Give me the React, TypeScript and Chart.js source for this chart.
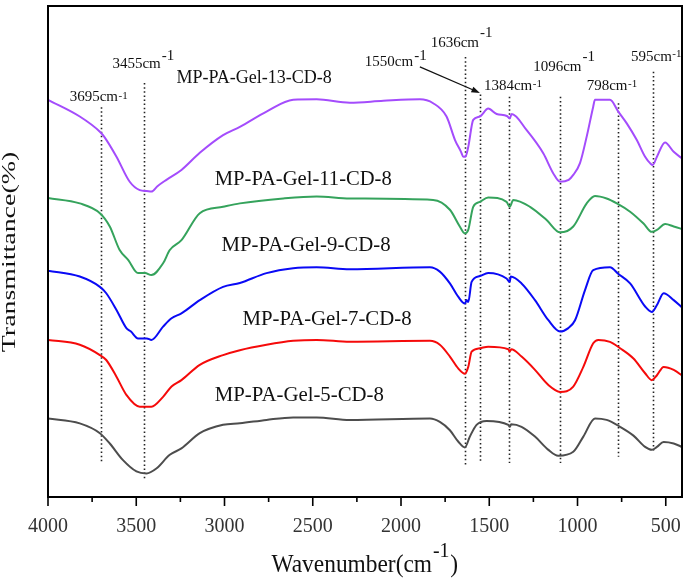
import React, { useEffect, useRef } from "react";
import { Chart, registerables } from "chart.js";

Chart.register(...registerables);

// ---- Data (wavenumber in cm-1, transmittance in arbitrary offset units) ----
const gel13Wn = [4000, 3820, 3706, 3680, 3612, 3537, 3480, 3440, 3414, 3380, 3329, 3244, 3140, 3008, 2913, 2762, 2611, 2478, 2290, 2100, 1893, 1818, 1742, 1694, 1660, 1647, 1635, 1619, 1591, 1553, 1506, 1458, 1400, 1384, 1373, 1288, 1194, 1137, 1099, 1050, 1024, 986, 948, 911, 901, 816, 769, 721, 664, 617, 589, 574, 550, 504, 455, 402];
const gel13T = [80.9, 77.5, 74.4, 73.3, 69.3, 64.2, 62.5, 62.3, 62.2, 63.3, 64.6, 66.6, 70.1, 73.7, 75.4, 78.5, 80.9, 81.0, 80.3, 80.7, 81.0, 80.2, 77.5, 72.7, 70.3, 69.3, 69.3, 71.3, 76.8, 77.5, 79.1, 78.0, 77.6, 77.1, 78.0, 74.7, 70.0, 65.9, 64.2, 64.6, 65.6, 68.0, 73.4, 79.5, 80.9, 80.9, 78.5, 76.1, 72.7, 69.3, 68.0, 67.6, 69.3, 72.2, 70.3, 68.8];

const gel11Wn = [4000, 3820, 3706, 3650, 3594, 3546, 3490, 3450, 3414, 3348, 3310, 3244, 3140, 3008, 2913, 2667, 2478, 2290, 1818, 1723, 1667, 1638, 1619, 1591, 1553, 1506, 1402, 1384, 1364, 1269, 1175, 1099, 1024, 948, 901, 835, 777, 702, 626, 579, 550, 503, 455, 402];
const gel11T = [60.9, 59.8, 57.8, 55.1, 50.3, 48.3, 45.6, 45.6, 45.2, 47.6, 50.3, 52.3, 57.8, 59.1, 59.8, 60.8, 61.2, 60.8, 60.5, 58.5, 55.1, 53.7, 54.4, 59.1, 60.1, 61.0, 60.1, 59.1, 60.5, 59.1, 56.4, 53.9, 55.1, 59.8, 61.3, 60.8, 59.8, 58.1, 55.7, 54.0, 54.4, 55.6, 55.1, 54.5];

const gel9Wn = [4000, 3820, 3706, 3670, 3612, 3556, 3530, 3490, 3440, 3414, 3348, 3300, 3244, 3140, 3008, 2913, 2762, 2611, 2478, 2290, 1836, 1780, 1723, 1676, 1638, 1628, 1619, 1600, 1553, 1506, 1402, 1384, 1378, 1317, 1241, 1165, 1099, 1052, 1014, 957, 911, 816, 768, 702, 617, 579, 550, 512, 455, 402];
const gel9T = [46.1, 44.9, 42.8, 41.5, 38.1, 34.4, 33.7, 32.3, 32.3, 32.0, 34.7, 36.4, 37.4, 40.1, 42.8, 43.6, 45.6, 46.6, 46.8, 46.4, 46.8, 45.9, 43.5, 40.8, 39.4, 40.1, 39.7, 43.8, 45.0, 45.6, 44.5, 43.8, 44.9, 43.5, 40.1, 36.0, 33.7, 34.4, 36.0, 42.2, 46.2, 46.8, 45.4, 43.5, 38.8, 37.7, 39.1, 41.5, 40.1, 38.4];

const gel7Wn = [4000, 3820, 3706, 3670, 3612, 3556, 3480, 3414, 3348, 3300, 3244, 3140, 3008, 2913, 2762, 2611, 2478, 2290, 1836, 1780, 1723, 1676, 1638, 1619, 1600, 1553, 1506, 1392, 1384, 1375, 1317, 1241, 1165, 1099, 1024, 967, 911, 882, 816, 759, 683, 617, 579, 550, 512, 455, 402];
const gel7T = [32.0, 31.0, 28.9, 27.9, 24.5, 20.8, 18.4, 18.4, 20.4, 22.5, 23.8, 26.9, 28.9, 29.9, 31.0, 31.8, 32.0, 31.6, 31.8, 31.0, 28.6, 26.2, 25.1, 26.5, 29.6, 30.3, 30.6, 30.1, 29.6, 30.1, 28.6, 25.9, 22.8, 21.4, 22.5, 26.5, 31.3, 32.0, 31.6, 30.3, 28.2, 25.2, 23.8, 24.8, 26.5, 25.9, 24.6];

const gel5Wn = [4000, 3820, 3706, 3650, 3575, 3499, 3442, 3386, 3310, 3244, 3140, 3008, 2913, 2762, 2611, 2478, 2290, 1836, 1780, 1723, 1676, 1638, 1610, 1572, 1515, 1392, 1384, 1376, 1317, 1241, 1165, 1109, 1024, 967, 901, 835, 759, 683, 617, 579, 550, 512, 455, 402];
const gel5T = [16.0, 15.0, 13.0, 10.9, 7.5, 5.2, 4.8, 5.8, 8.6, 9.9, 13.0, 14.7, 15.0, 15.7, 16.2, 16.2, 15.7, 16.0, 15.3, 13.6, 11.3, 10.1, 12.3, 14.7, 15.5, 14.7, 14.3, 14.8, 14.3, 12.3, 9.6, 8.4, 9.2, 12.3, 16.0, 15.7, 14.3, 12.5, 10.2, 9.6, 10.2, 11.2, 10.9, 10.1];

const seriesNames = ["MP-PA-Gel-13-CD-8", "MP-PA-Gel-11-CD-8", "MP-PA-Gel-9-CD-8", "MP-PA-Gel-7-CD-8", "MP-PA-Gel-5-CD-8"];
const xTickValues = [4000, 3500, 3000, 2500, 2000, 1500, 1000, 500];
const peakLabels = ["3695", "3455", "1636", "1550", "1384", "1096", "798", "595"];
// where each dotted marker line sits, and its vertical span
const peakLineWn = [3697, 3455, 1638, 1553, 1386, 1098, 771, 575];
const peakLineTop = [79.4, 84.3, 89.6, 82.0, 81.5, 81.5, 80.2, 86.6];
const peakLineBottom = [7.0, 3.5, 6.5, 7.2, 6.9, 6.9, 8.2, 9.0];

// ---- Layout / style (not data) ----
const COLORS = ["#a44cfc", "#35a35c", "#0a0af5", "#f50a0a", "#4d4d4d"];
const SERIF = '"Liberation Serif", "Times New Roman", serif';
const seriesLabelPos = [
  { wn: 3272, t: 84.3, size: 18 },
  { wn: 3055, t: 63.5, size: 20.6 },
  { wn: 3017, t: 50.1, size: 20.8 },
  { wn: 2898, t: 35.0, size: 20.8 },
  { wn: 3055, t: 19.55, size: 20.8 },
];
// big = superscript same size and raised high; small = small and low
const peakLabelPos = [
  { wn: 3877, t: 80.65, big: false, rise: 2.5 },
  { wn: 3635, t: 87.4, big: true, rise: 8 },
  { wn: 1832, t: 91.7, big: true, rise: 9.5 },
  { wn: 2205, t: 87.8, big: true, rise: 5.5 },
  { wn: 1530, t: 82.9, big: false, rise: 3 },
  { wn: 1251, t: 86.8, big: true, rise: 10 },
  { wn: 948, t: 82.9, big: false, rise: 3 },
  { wn: 697, t: 88.7, big: false, rise: 4 },
];
const arrowFrom = { wn: 1893, t: 87.6 };
const arrowTo = { wn: 1553, t: 82.3 };

function zip(wn: number[], t: number[]) {
  return wn.map((w, i) => ({ x: w, y: t[i] }));
}

const decorPlugin = {
  id: "decor",
  beforeDatasetsDraw(chart: any) {
    const { ctx } = chart;
    const xs = chart.scales.x;
    const ys = chart.scales.y;
    ctx.save();
    ctx.strokeStyle = "#222";
    ctx.lineWidth = 1.6;
    ctx.setLineDash([1.5, 2.6]);
    for (let i = 0; i < peakLineWn.length; i++) {
      const x = Math.round(xs.getPixelForValue(peakLineWn[i])) + 0.5;
      ctx.beginPath();
      ctx.moveTo(x, ys.getPixelForValue(peakLineTop[i]));
      ctx.lineTo(x, ys.getPixelForValue(peakLineBottom[i]));
      ctx.stroke();
    }
    ctx.restore();
  },
  afterDraw(chart: any) {
    const { ctx, chartArea } = chart;
    const xs = chart.scales.x;
    const ys = chart.scales.y;
    ctx.save();
    // frame
    ctx.strokeStyle = "#000";
    ctx.lineWidth = 2;
    ctx.setLineDash([]);
    ctx.strokeRect(chartArea.left, chartArea.top, chartArea.right - chartArea.left, chartArea.bottom - chartArea.top);
    // ticks (outside, major + minor)
    ctx.lineWidth = 1.6;
    for (let v = 4000; v >= 500; v -= 250) {
      const x = xs.getPixelForValue(v);
      const len = v % 500 === 0 ? 9 : 5;
      ctx.beginPath();
      ctx.moveTo(x, chartArea.bottom);
      ctx.lineTo(x, chartArea.bottom + len);
      ctx.stroke();
    }
    ctx.fillStyle = "#111";
    ctx.textBaseline = "alphabetic";
    ctx.textAlign = "left";
    // series labels
    seriesNames.forEach((name, i) => {
      const p = seriesLabelPos[i];
      ctx.font = `${p.size}px ${SERIF}`;
      ctx.fillText(name, xs.getPixelForValue(p.wn), ys.getPixelForValue(p.t));
    });
    // peak labels
    peakLabels.forEach((lab, i) => {
      const p = peakLabelPos[i];
      const x = xs.getPixelForValue(p.wn);
      const y = ys.getPixelForValue(p.t);
      ctx.font = `15px ${SERIF}`;
      const main = lab + "cm";
      ctx.fillText(main, x, y);
      const w = ctx.measureText(main).width;
      ctx.font = p.big ? `15px ${SERIF}` : `11px ${SERIF}`;
      ctx.fillText("-1", x + w + (p.big ? 1 : 0.5), y - p.rise);
    });
    // arrow
    const ax0 = xs.getPixelForValue(arrowFrom.wn);
    const ay0 = ys.getPixelForValue(arrowFrom.t);
    const ax1 = xs.getPixelForValue(arrowTo.wn);
    const ay1 = ys.getPixelForValue(arrowTo.t);
    const ang = Math.atan2(ay1 - ay0, ax1 - ax0);
    const hl = 9;
    ctx.strokeStyle = "#111";
    ctx.lineWidth = 1.2;
    ctx.beginPath();
    ctx.moveTo(ax0, ay0);
    ctx.lineTo(ax1 - Math.cos(ang) * hl * 0.8, ay1 - Math.sin(ang) * hl * 0.8);
    ctx.stroke();
    ctx.beginPath();
    ctx.moveTo(ax1, ay1);
    ctx.lineTo(ax1 - hl * Math.cos(ang - 0.35), ay1 - hl * Math.sin(ang - 0.35));
    ctx.lineTo(ax1 - hl * Math.cos(ang + 0.35), ay1 - hl * Math.sin(ang + 0.35));
    ctx.closePath();
    ctx.fill();
    // x title
    ctx.save();
    ctx.translate(271.5, 571.5);
    ctx.scale(0.9, 1);
    ctx.font = `26px ${SERIF}`;
    ctx.fillStyle = "#111";
    const t1 = "Wavenumber(cm";
    ctx.fillText(t1, 0, 0);
    let cx = ctx.measureText(t1).width;
    ctx.font = `22px ${SERIF}`;
    ctx.fillText("-1", cx + 1, -15);
    cx += ctx.measureText("-1").width + 2;
    ctx.font = `26px ${SERIF}`;
    ctx.fillText(")", cx, 0);
    ctx.restore();
    // y title
    ctx.save();
    ctx.translate(15, 252);
    ctx.rotate(-Math.PI / 2);
    ctx.scale(1.55, 1);
    ctx.font = `18px ${SERIF}`;
    ctx.textAlign = "center";
    ctx.fillStyle = "#111";
    ctx.fillText("Transmittance(%)", 0, 0);
    ctx.restore();
    ctx.restore();
  },
};

export default function App() {
  const ref = useRef<HTMLCanvasElement | null>(null);
  useEffect(() => {
    if (!ref.current) return;
    const sets = [
      zip(gel13Wn, gel13T),
      zip(gel11Wn, gel11T),
      zip(gel9Wn, gel9T),
      zip(gel7Wn, gel7T),
      zip(gel5Wn, gel5T),
    ];
    const chart = new Chart(ref.current, {
      type: "line",
      data: {
        datasets: sets.map((d, i) => ({
          label: seriesNames[i],
          data: d,
          borderColor: COLORS[i],
          borderWidth: 2,
          pointRadius: 0,
          fill: false,
          cubicInterpolationMode: "monotone" as const,
        })),
      },
      options: {
        animation: false,
        responsive: false,
        maintainAspectRatio: false,
        layout: { padding: { left: 48, right: 3, top: 6, bottom: 0 } },
        plugins: { legend: { display: false }, tooltip: { enabled: false } },
        scales: {
          x: {
            type: "linear",
            reverse: true,
            min: 408,
            max: 4000,
            afterBuildTicks: (scale: any) => {
              scale.ticks = xTickValues.map((v) => ({ value: v }));
            },
            afterFit: (scale: any) => {
              scale.height = 86;
              scale.paddingLeft = 0;
              scale.paddingRight = 0;
            },
            grid: { display: false, drawTicks: false },
            border: { display: false },
            ticks: {
              padding: 18,
              maxRotation: 0,
              autoSkip: false,
              color: "#333",
              font: { family: SERIF, size: 20 },
              callback: (v: any) => String(v),
            },
          },
          y: {
            type: "linear",
            display: false,
            min: 0,
            max: 100,
          },
        },
      },
      plugins: [decorPlugin],
    });
    return () => chart.destroy();
  }, []);
  return (
    <div style={{ position: "fixed", left: 0, top: 0, width: 685, height: 583, background: "#fff" }}>
      <canvas ref={ref} width={685} height={583} style={{ width: 685, height: 583, display: "block" }} />
    </div>
  );
}
